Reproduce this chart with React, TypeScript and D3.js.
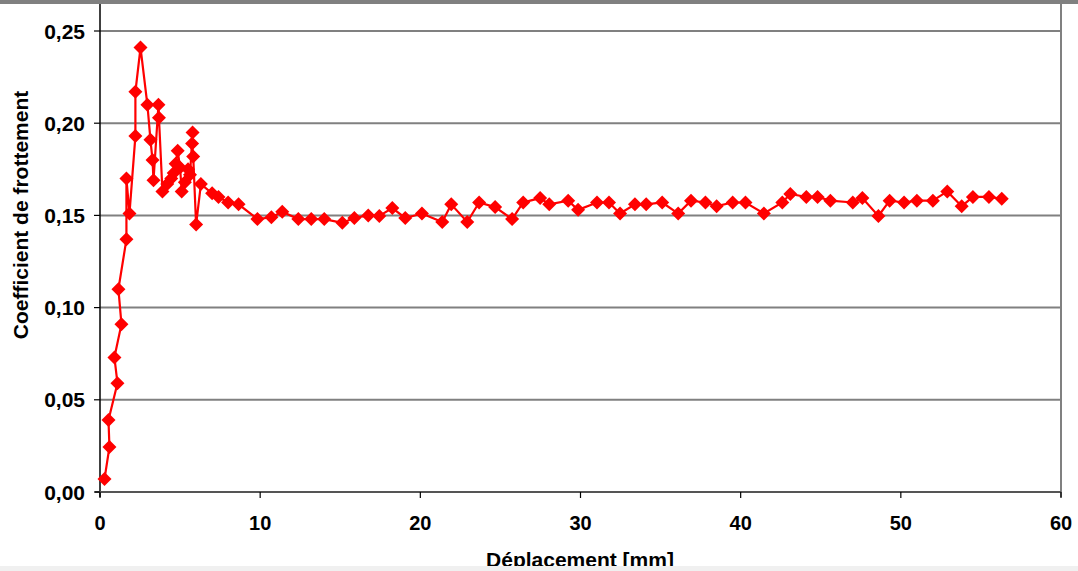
import React from "react";
import * as d3 from "d3";

const displacement = [0.28, 0.59, 0.53, 1.09, 0.9, 1.34, 1.15, 1.65, 1.65, 1.84, 2.21, 2.21, 2.53, 2.96, 3.15, 3.28, 3.34,
  3.65, 3.68, 3.9, 4.2, 4.45, 4.6, 4.72, 4.85, 5.0, 5.1, 5.3, 5.5, 5.62, 5.78, 5.75, 5.82, 6.0, 6.3, 7.0, 7.4, 8.0, 8.65,
  9.83, 10.7, 11.38, 12.38, 13.19, 14.0, 15.13, 15.88, 16.75, 17.44, 18.25, 19.06, 20.1,
  21.37, 21.93, 22.93, 23.67, 24.67, 25.73, 26.42, 27.48, 28.05, 29.23, 29.85, 31.03, 31.78, 32.47,
  33.4, 34.1, 35.1, 36.1, 36.9, 37.8, 38.5, 39.5, 40.3, 41.45, 42.6, 43.1, 44.1, 44.8, 45.6,
  47.0, 47.6, 48.6, 49.3, 50.2, 51.0, 52.0, 52.9, 53.8, 54.5, 55.5, 56.3];

const friction = [0.007, 0.0244, 0.039, 0.059, 0.073, 0.091, 0.11, 0.137, 0.17, 0.151, 0.193, 0.217, 0.241, 0.21, 0.191, 0.18, 0.169,
  0.21, 0.203, 0.163, 0.167, 0.17, 0.173, 0.178, 0.185, 0.176, 0.163, 0.168, 0.175, 0.172, 0.195, 0.189, 0.182, 0.145, 0.167, 0.162, 0.16, 0.157, 0.156,
  0.148, 0.149, 0.152, 0.148, 0.148, 0.148, 0.146, 0.1486, 0.15, 0.1497, 0.154, 0.1486, 0.151,
  0.1464, 0.156, 0.1464, 0.157, 0.1545, 0.148, 0.157, 0.1594, 0.156, 0.158, 0.153, 0.157, 0.157, 0.151,
  0.156, 0.156, 0.157, 0.151, 0.158, 0.157, 0.155, 0.157, 0.157, 0.151, 0.157, 0.1616, 0.16, 0.16, 0.158,
  0.157, 0.1594, 0.1497, 0.158, 0.157, 0.158, 0.158, 0.163, 0.155, 0.16, 0.16, 0.159];

const xTicks = [0, 10, 20, 30, 40, 50, 60];
const yTicks = [0, 0.05, 0.1, 0.15, 0.2, 0.25];

const W = 1078;
const H = 571;
const FONT = "'Liberation Sans', Arial, sans-serif";

export default function App() {
  const x = d3.scaleLinear().domain([0, 60]).range([100, 1061]);
  const y = d3.scaleLinear().domain([0, 0.25]).range([492, 31]);
  const pts = displacement.map((d, i) => [d, friction[i]] as [number, number]);
  const line = d3.line<[number, number]>().x((d) => x(d[0])).y((d) => y(d[1]));
  const fmt = (v: number) => v.toFixed(2).replace(".", ",");
  const r = 7;
  const diamond = `M0,${-r}L${r},0L0,${r}L${-r},0Z`;

  return (
    <svg width={W} height={H} style={{ position: "fixed", left: 0, top: 0, background: "#fff" }} fontFamily={FONT}>
      <rect x={0} y={0} width={W} height={H} fill="#fff" />
      {yTicks.filter((t) => t > 0).map((t) => (
        <line key={t} x1={x(0)} x2={x(60)} y1={y(t)} y2={y(t)} stroke="#808080" strokeWidth={2} />
      ))}
      <line x1={x(60)} x2={x(60)} y1={4} y2={y(0) + 5} stroke="#808080" strokeWidth={2} />
      <line x1={x(0)} x2={x(0)} y1={4} y2={y(0) + 5} stroke="#000" strokeWidth={1.5} />
      <line x1={x(0) - 5} x2={x(60)} y1={y(0)} y2={y(0)} stroke="#555" strokeWidth={2} />
      {yTicks.map((t) => (
        <g key={t}>
          <line x1={x(0) - 6} x2={x(0)} y1={y(t)} y2={y(t)} stroke="#000" strokeWidth={1.2} />
          <text x={85} y={y(t)} dy="0.36em" textAnchor="end" fontSize={21} fontWeight="bold" fill="#000">
            {fmt(t)}
          </text>
        </g>
      ))}
      {xTicks.map((t) => (
        <g key={t}>
          <line x1={x(t)} x2={x(t)} y1={y(0)} y2={y(0) + 6} stroke="#000" strokeWidth={1.2} />
          <text x={x(t)} y={530} textAnchor="middle" fontSize={20} fontWeight="bold" fill="#000">
            {t}
          </text>
        </g>
      ))}
      <path d={line(pts) || ""} fill="none" stroke="#ff0000" strokeWidth={2.2} />
      {pts.map((p, i) => (
        <path key={i} d={diamond} transform={`translate(${x(p[0])},${y(p[1])})`} fill="#ff0000" />
      ))}
      <text x={580} y={567} textAnchor="middle" fontSize={21} fontWeight="bold" fill="#000">
        Déplacement [mm]
      </text>
      <text transform="translate(28,215) rotate(-90)" textAnchor="middle" fontSize={21} fontWeight="bold" fill="#000">
        Coefficient de frottement
      </text>
      <rect x={0} y={0} width={W} height={4} fill="#808080" />
      <rect x={0} y={566} width={W} height={5} fill="#f0f0f0" />
    </svg>
  );
}
